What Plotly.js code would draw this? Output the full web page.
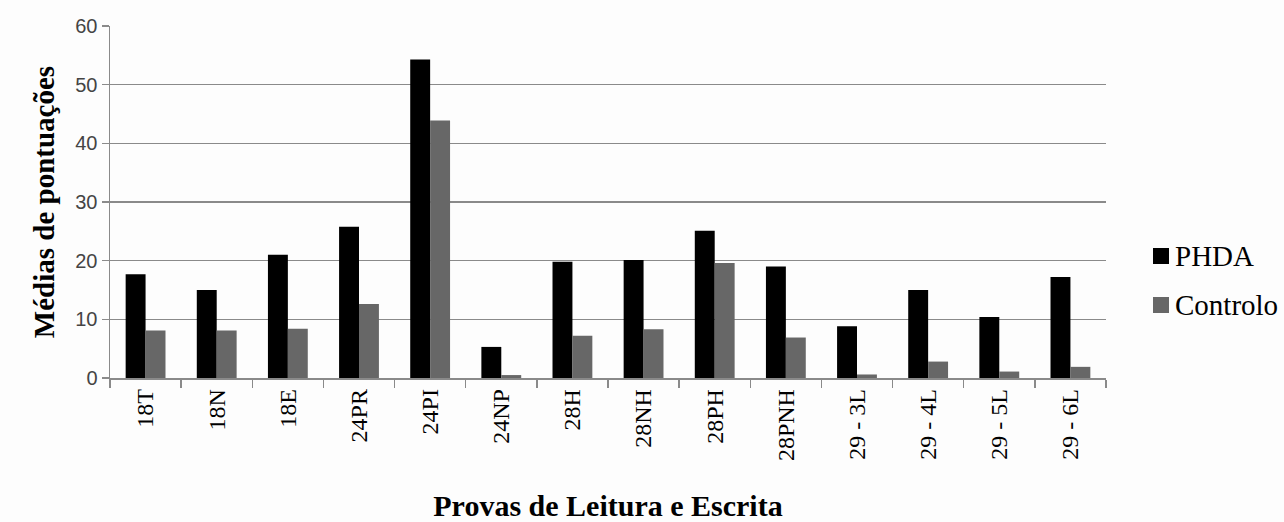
<!DOCTYPE html>
<html>
<head>
<meta charset="utf-8">
<script src="https://cdn.plot.ly/plotly-3.0.1.min.js"></script>
<style>
  html, body { margin: 0; padding: 0; background: #fdfdfd; }
  #chart { width: 1284px; height: 522px; }
</style>
</head>
<body>
<div id="chart"></div>
<script>
const categories = ["18T", "18N", "18E", "24PR", "24PI", "24NP", "28H", "28NH", "28PH", "28PNH", "29 - 3L", "29 - 4L", "29 - 5L", "29 - 6L"];
const phda = [17.7, 15.0, 21.0, 25.8, 54.3, 5.3, 19.8, 20.1, 25.1, 19.0, 8.8, 15.0, 10.4, 17.2];
const controlo = [8.1, 8.1, 8.4, 12.6, 43.9, 0.5, 7.2, 8.3, 19.6, 6.9, 0.6, 2.8, 1.1, 1.9];
const seriesNames = ["PHDA", "Controlo"];
const seriesColors = ["#000000", "#676767"];
const yTicks = [0, 10, 20, 30, 40, 50, 60];
const xTitle = "Provas de Leitura e Escrita";
const yTitle = "Médias de pontuações";

const serif = "Liberation Serif";

const W = 1284, H = 522;
const M = { l: 110, r: 178, t: 26, b: 144 };
const plotW = W - M.l - M.r, plotH = H - M.t - M.b;
const px2x = p => (p - M.l) / plotW;
const px2y = p => (H - M.b - p) / plotH;

const traces = [
  { type: "bar", name: seriesNames[0], x: categories, y: phda,
    marker: { color: seriesColors[0] }, hoverinfo: "x+y" },
  { type: "bar", name: seriesNames[1], x: categories, y: controlo,
    marker: { color: seriesColors[1] }, hoverinfo: "x+y" }
];

// Legend drawn as shapes + annotations (serif text)
const legendRows = [256, 305];
const shapes = seriesNames.map((n, i) => ({
  type: "rect", xref: "paper", yref: "paper",
  x0: px2x(1153), x1: px2x(1169),
  y0: px2y(legendRows[i] + 8), y1: px2y(legendRows[i] - 8),
  fillcolor: seriesColors[i], line: { width: 0 }
}));
const annotations = seriesNames.map((n, i) => ({
  xref: "paper", yref: "paper", x: px2x(1173), y: px2y(legendRows[i]),
  xanchor: "left", yanchor: "middle", showarrow: false, text: n,
  font: { family: serif, size: 29, color: "#000" }
}));

const layout = {
  width: W, height: H,
  font: { family: serif, color: "#000" },
  paper_bgcolor: "#fdfdfd", plot_bgcolor: "#fdfdfd",
  margin: { l: M.l, r: M.r, t: M.t, b: M.b, pad: 0 },
  barmode: "group", bargap: 0.44, bargroupgap: 0,
  showlegend: false,
  shapes: shapes,
  annotations: annotations,
  xaxis: {
    type: "category",
    tickangle: -90,
    tickfont: { family: serif, size: 24, color: "#000" },
    ticks: "outside", tickson: "boundaries", ticklen: 8, tickcolor: "#8a8a8a", tickwidth: 1.5,
    showline: true, linecolor: "#8a8a8a", linewidth: 1.5,
    showgrid: false,
    automargin: false,
    title: { text: xTitle, font: { family: serif, size: 30, color: "#000", weight: "bold" }, standoff: 44 }
  },
  yaxis: {
    range: [0, 60],
    tickvals: yTicks,
    tickfont: { family: "Liberation Sans", size: 20, color: "#444" },
    ticks: "outside", ticklen: 7, tickcolor: "#8a8a8a", tickwidth: 1.5,
    showline: true, linecolor: "#8a8a8a", linewidth: 1.5,
    showgrid: true, gridcolor: "#8a8a8a", gridwidth: 1.5,
    zeroline: false,
    automargin: false,
    title: { text: yTitle, font: { family: serif, size: 29, color: "#000", weight: "bold" }, standoff: 12 }
  }
};

Plotly.newPlot("chart", traces, layout, { displayModeBar: false, staticPlot: true });
</script>
</body>
</html>
